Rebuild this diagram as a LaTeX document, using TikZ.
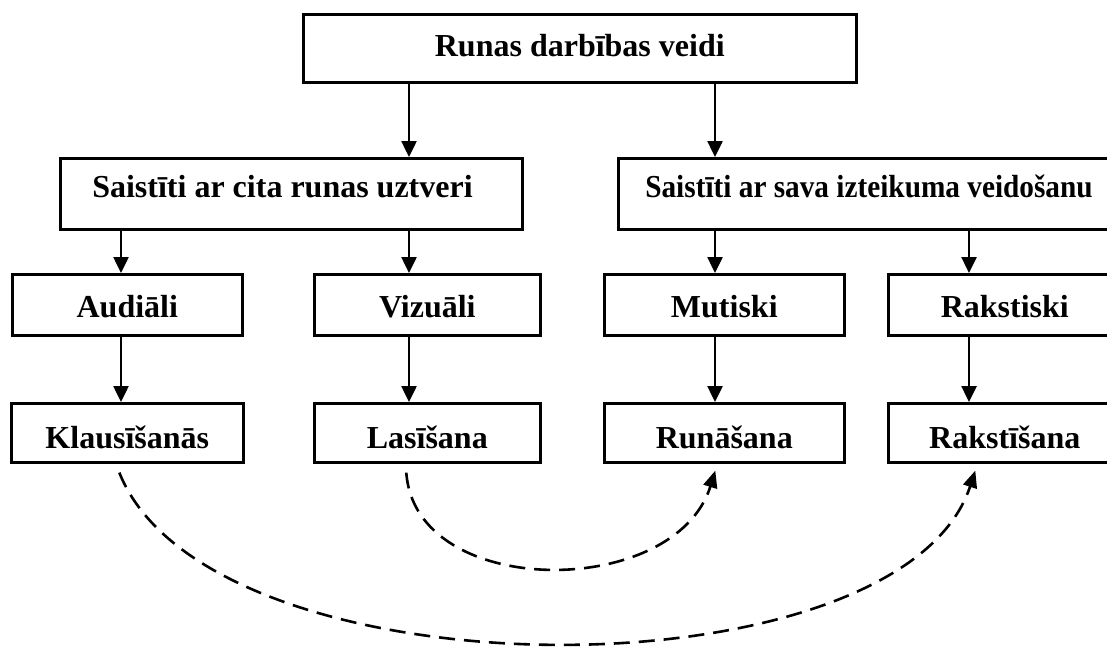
\documentclass[tikz,border=0pt]{standalone}
\usepackage{fontspec}
\usepackage{graphicx}
\setmainfont{Liberation Serif}
\usetikzlibrary{arrows.meta}
\begin{document}
\begin{tikzpicture}[x=1pt,y=-1pt,
  box/.style={draw, line width=2.6pt, inner sep=0pt, anchor=north west,
    font=\fontsize{32}{38}\selectfont\bfseries, text depth=0pt},
  arr/.style={line width=2.5pt, -{Triangle[length=16pt,width=15pt]}},
  link/.style={line width=2.6pt, dash pattern=on 16pt off 9pt,
    -{Triangle[length=17pt,width=14pt]}}]
\useasboundingbox (0,0) rectangle (1107,646);
\clip (0,0) rectangle (1107,646);
\fill[white] (0,0) rectangle (1107,646);

% top level
\node[box, minimum width=553pt, minimum height=68pt, text height=16pt] (top) at (302,13)
  {Runas darbības veidi};

% second level
\node[box, minimum width=462pt, minimum height=71pt, text height=8pt] (lm) at (59,157)
  {\makebox[398pt][l]{Saistīti ar cita runas uztveri}};
\node[box, minimum width=503pt, minimum height=71pt, text height=8pt] (rm) at (617,157)
  {\makebox[449pt][l]{\scalebox{0.915}[1]{Saistīti ar sava izteikuma veidošanu}}};

% third level
\node[box, minimum width=230pt, minimum height=61pt, text height=26pt] (aud) at (11,273) {Audiāli};
\node[box, minimum width=226pt, minimum height=61pt, text height=26pt] (viz) at (313,273) {Vizuāli};
\node[box, minimum width=240pt, minimum height=61pt, text height=26pt] (mut) at (603,273) {Mutiski};
\node[box, minimum width=233pt, minimum height=61pt, text height=26pt] (rakst) at (887,273) {Rakstiski};

% fourth level
\node[box, minimum width=232pt, minimum height=59pt, text height=32pt] (klaus) at (10,402) {Klausīšanās};
\node[box, minimum width=226pt, minimum height=59pt, text height=32pt] (las) at (313,402) {Lasīšana};
\node[box, minimum width=240pt, minimum height=59pt, text height=32pt] (run) at (603,402) {Runāšana};
\node[box, minimum width=233pt, minimum height=59pt, text height=32pt] (rakstis) at (887,402) {Rakstīšana};

% arrow columns
\coordinate (c1) at (121,0);
\coordinate (c2) at (409,0);
\coordinate (c3) at (715,0);
\coordinate (c4) at (969,0);

\draw[arr] (top.south -| c2) -- (lm.north -| c2);
\draw[arr] (top.south -| c3) -- (rm.north -| c3);
\draw[arr] (lm.south -| c1) -- (aud.north -| c1);
\draw[arr] (lm.south -| c2) -- (viz.north -| c2);
\draw[arr] (rm.south -| c3) -- (mut.north -| c3);
\draw[arr] (rm.south -| c4) -- (rakst.north -| c4);
\draw[arr] (aud.south -| c1) -- (klaus.north -| c1);
\draw[arr] (viz.south -| c2) -- (las.north -| c2);
\draw[arr] (mut.south -| c3) -- (run.north -| c3);
\draw[arr] (rakst.south -| c4) -- (rakstis.north -| c4);

% dashed links between activities
\draw[link] ([shift={(-8,9)}]klaus.south) .. controls (210,700) and (900,700)
  .. ([shift={(-29.5,7)}]rakstis.south);
\draw[link] ([shift={(-21,9)}]las.south) .. controls (415,600) and (675,600)
  .. ([shift={(-9,7)}]run.south);
\end{tikzpicture}
\end{document}
